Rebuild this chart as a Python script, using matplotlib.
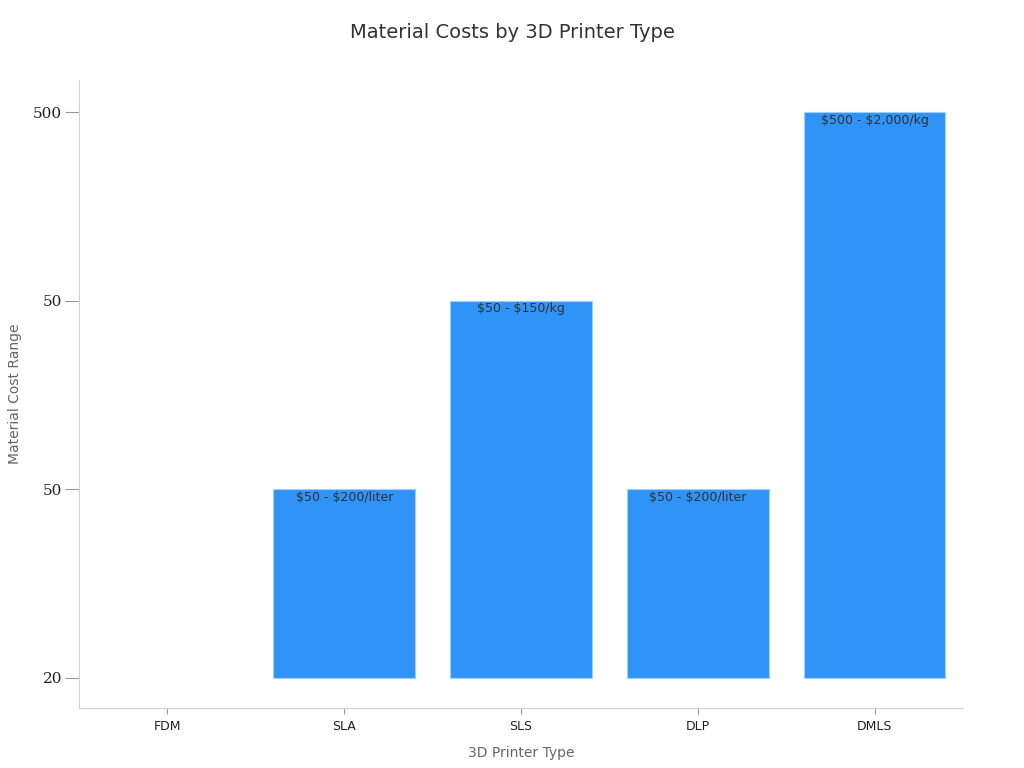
import matplotlib
matplotlib.use("Agg")
import matplotlib.pyplot as plt

# ── Data ──────────────────────────────────────────────────────────────────────
printer_types = ["FDM", "SLA", "SLS", "DLP", "DMLS"]
cost_levels = [0, 1, 2, 1, 3]          # position on the (categorical) y axis
cost_labels = ["", "\\$50 - \\$200/liter", "\\$50 - \\$150/kg", "\\$50 - \\$200/liter",
               "\\$500 - \\$2,000/kg"]
y_tick_labels = ["20", "50", "50", "500"]

BAR_COLOR = "#2f93f7"

fig = plt.figure(figsize=(10.24, 7.68), dpi=100)
ax = fig.add_axes([79 / 1024, 60 / 768, 884 / 1024, 628 / 768])

x = range(len(printer_types))
bars = ax.bar(x, cost_levels, width=0.8, color=BAR_COLOR,
              edgecolor="#9fd0ff", linewidth=0.8)

for b, lab in zip(bars, cost_labels):
    if b.get_height() == 0:
        b.set_visible(False)
    if lab:
        ax.annotate(lab, (b.get_x() + b.get_width() / 2, b.get_height()),
                    xytext=(0, -6), textcoords="offset points",
                    ha="center", va="center", fontsize=9, color="#333333")

ax.set_xlim(-0.5, 4.5)
ax.set_ylim(-0.16, 3.17)
ax.set_xticks(list(x))
ax.set_xticklabels(printer_types, fontsize=9, color="#222222")
ax.set_yticks(range(len(y_tick_labels)))
ax.set_yticklabels(y_tick_labels, fontsize=11, family="DejaVu Serif", color="#222222")

ax.tick_params(axis="y", length=10, width=0.8, color="#999999", pad=2)
ax.tick_params(axis="x", length=4, width=0.8, color="#999999", pad=5)

for side in ("top", "right"):
    ax.spines[side].set_visible(False)
for side in ("left", "bottom"):
    ax.spines[side].set_color("#d0d0d0")

ax.set_xlabel("3D Printer Type", fontsize=10, color="#666666", labelpad=9)
ax.set_ylabel("Material Cost Range", fontsize=10, color="#666666", labelpad=8)
fig.suptitle("Material Costs by 3D Printer Type", fontsize=14, color="#333333",
             y=0.97)

fig.savefig("out.png", dpi=100)
